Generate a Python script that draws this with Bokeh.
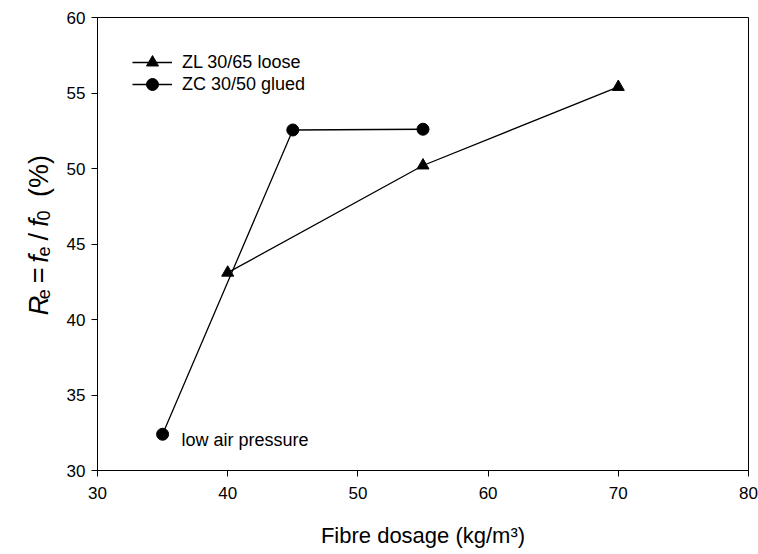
import math
from bokeh.plotting import figure
from bokeh.layouts import row
from bokeh.models import Range1d, Label, Legend, LegendItem, FixedTicker
from bokeh.embed import file_html
from bokeh.resources import INLINE

# ---- data ----
zl_x = [40, 55, 70]
zl_y = [43.1, 50.2, 55.4]
zc_x = [35, 45, 55]
zc_y = [32.4, 52.55, 52.6]
x_ticks = [30, 40, 50, 60, 70, 80]
y_ticks = [30, 35, 40, 45, 50, 55, 60]
series_labels = ["ZL 30/65 loose", "ZC 30/50 glued"]
x_title = "Fibre dosage (kg/m³)"
note = "low air pressure"

FONT = "Liberation Sans"
W, H = 758, 554
TW = 60                      # width of the strip that holds the y title
FL, FR, FT, FB = 97, 748, 17, 470
X0, X1, Y0, Y1 = 30, 80, 30, 60

p = figure(frame_width=FR - FL, frame_height=FB - FT,
           x_range=Range1d(X0, X1), y_range=Range1d(Y0, Y1),
           output_backend="svg", toolbar_location=None,
           min_border_left=FL - TW, min_border_right=W - FR,
           min_border_top=FT, min_border_bottom=H - FB)
p.background_fill_color = "white"
p.border_fill_color = "white"
p.outline_line_color = "black"
p.outline_line_width = 1
p.xgrid.visible = False
p.ygrid.visible = False

for ax, ticks in ((p.xaxis[0], x_ticks), (p.yaxis[0], y_ticks)):
    ax.ticker = FixedTicker(ticks=ticks)
    ax.axis_line_color = "black"
    ax.major_tick_line_color = "black"
    ax.major_tick_out = 6
    ax.major_tick_in = 0
    ax.minor_tick_line_color = None
    ax.major_label_text_font = FONT
    ax.major_label_text_font_size = "17px"
    ax.major_label_text_color = "black"

p.xaxis.major_label_standoff = 10
p.yaxis.major_label_standoff = 6
p.xaxis.axis_label = x_title
p.xaxis.axis_label_text_font = FONT
p.xaxis.axis_label_text_font_size = "22px"
p.xaxis.axis_label_text_font_style = "normal"
p.xaxis.axis_label_text_color = "black"
p.xaxis.axis_label_standoff = 21

# ---- series ----
r1l = p.line(zl_x, zl_y, line_color="black", line_width=1.3)
r1m = p.scatter(zl_x, zl_y, marker="triangle", size=12, fill_color="black", line_color="black")
r2l = p.line(zc_x, zc_y, line_color="black", line_width=1.3)
r2m = p.scatter(zc_x, zc_y, marker="circle", size=12, fill_color="black", line_color="black")

def make_legend(label, rends, row_center):
    bottom = row_center + 15
    return Legend(items=[LegendItem(label=label, renderers=rends)],
                  location=(35, FB - bottom), orientation="vertical",
                  glyph_width=40, glyph_height=30, label_height=30, spacing=0,
                  label_standoff=10, padding=0, margin=0,
                  border_line_color=None, background_fill_alpha=0,
                  label_text_font=FONT, label_text_font_size="18px",
                  label_text_color="black")

p.add_layout(make_legend(series_labels[0], [r1l, r1m], 62))
p.add_layout(make_legend(series_labels[1], [r2l, r2m], 84))

# annotation
p.add_layout(Label(x=36.45, y=32.0, text=note, text_font=FONT,
                   text_font_size="18px", text_baseline="middle",
                   text_align="left", text_color="black"))

# ---- y-axis title strip: R_e = f_e / f_0 (%) built from styled pieces ----
tf = figure(width=TW, height=H, x_range=Range1d(0, TW), y_range=Range1d(H, 0),
            x_axis_type=None, y_axis_type=None,
            output_backend="svg", toolbar_location=None,
            min_border=0, min_border_left=0, min_border_right=0,
            min_border_top=0, min_border_bottom=0)
tf.outline_line_color = None
tf.xgrid.visible = False
tf.ygrid.visible = False
tf.background_fill_color = "white"
tf.border_fill_color = "white"

S, s = 27, 18
adv = {"R": .722, "e": .556, " ": .35, "=": .584, "f": .278, "/": .278,
       "0": .556, "(": .333, "%": .889, ")": .333}
pieces = [("R", S, "italic", 0), ("e", s, "normal", 5), (" ", S, None, 0),
          ("=", S, "normal", 0), (" ", S, None, 0), ("f", S, "italic", 0),
          ("e", s, "normal", 5), (" ", S, None, 0), ("/", S, "normal", 0),
          (" ", S, None, 0), ("f", S, "italic", 0), ("0", s, "normal", 5),
          (" ", S, None, 0), (" ", S, None, 0), ("(%)", S, "normal", 0)]
start_sy = 364
base_sx = 38
cursor = start_sy
for t, sz, style, shift in pieces:
    w = sum(adv[c] for c in t) * sz
    if style is not None:
        tf.add_layout(Label(x=base_sx + shift, y=cursor,
                            text=t, angle=math.pi / 2, text_font=FONT,
                            text_font_size=f"{sz}px", text_font_style=style,
                            text_align="left", text_baseline="alphabetic",
                            text_color="black"))
    cursor -= w

layout = row(tf, p, spacing=0)
open("out.html", "w").write(file_html(layout, INLINE))
